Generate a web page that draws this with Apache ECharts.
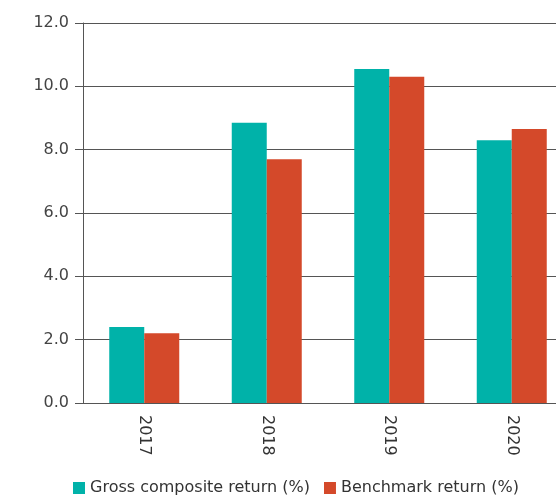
<!DOCTYPE html>
<html><head><meta charset="utf-8">
<script src="https://cdn.jsdelivr.net/npm/echarts@6/dist/echarts.min.js"></script>
<style>html,body{margin:0;padding:0;background:#fff}#c{width:556px;height:495px}</style>
</head><body><div id="c"></div>
<script>
var years = ['2017', '2018', '2019', '2020']
var gross = [2.4, 8.85, 10.55, 8.3]
var bench = [2.2, 7.7, 10.3, 8.65]

var chart = echarts.init(document.getElementById('c'))
var font = 'DejaVu Sans'
chart.setOption({
  animation: false,
  textStyle: { fontFamily: font },
  grid: { left: 83, width: 490, top: 23, height: 380, outerBoundsMode: 'none', containLabel: false },
  legend: {
    top: 475, left: 68, itemWidth: 12, itemHeight: 12, itemGap: 14, icon: 'rect',
    textStyle: { fontSize: 16, color: '#333', fontFamily: font },
    data: ['Gross composite return (%)', 'Benchmark return (%)']
  },
  xAxis: {
    type: 'category', data: years,
    axisLine: { lineStyle: { color: '#555' } },
    axisTick: { show: false },
    axisLabel: { rotate: -90, fontSize: 16, color: '#333', margin: 12, fontFamily: font }
  },
  yAxis: {
    type: 'value', min: 0, max: 12, interval: 2,
    axisLine: { show: true, lineStyle: { color: '#555' } },
    axisTick: { show: true, length: 8, lineStyle: { color: '#555' } },
    splitLine: { lineStyle: { color: '#555' } },
    axisLabel: { formatter: function (v) { return v.toFixed(1) }, fontSize: 16, color: '#444', margin: 14, fontFamily: font }
  },
  series: [
    { name: 'Gross composite return (%)', type: 'bar', data: gross, barWidth: 35, barGap: '0%', itemStyle: { color: '#00b2a9' } },
    { name: 'Benchmark return (%)', type: 'bar', data: bench, barWidth: 35, itemStyle: { color: '#d4492a' } }
  ]
})
</script></body></html>
